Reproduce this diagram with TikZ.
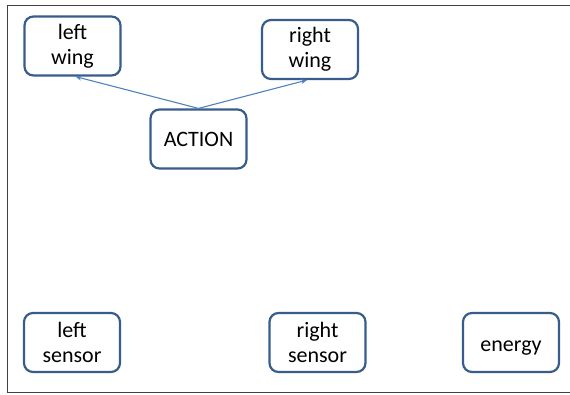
\documentclass[tikz,border=0pt]{standalone}
\usepackage{fontspec}
\setmainfont{Carlito}
\usetikzlibrary{arrows.meta}
\definecolor{boxline}{HTML}{385D8A}
\definecolor{arrowline}{HTML}{4F81BD}
\tikzset{
  unit/.style={draw=boxline, line width=2.2pt, rounded corners=9pt, fill=white,
    minimum width=96pt, minimum height=59pt, align=center, inner sep=1pt,
    font=\fontsize{22}{25}\selectfont},
  link/.style={draw=arrowline, line width=1.1pt, -{Stealth[length=6pt,width=5pt]}}
}
\begin{document}
\begin{tikzpicture}[x=1pt,y=1pt]
  \useasboundingbox (0,0) rectangle (570,395);
  % outer frame (open on the right)
  \draw[line width=1pt, black!75] (570,389) -- (7,389) -- (7,2) -- (570,2);
  % units
  \node[unit] (lw)  at (72.5,349)  {left\\wing};
  \node[unit] (rw)  at (310,345.5) {right\\wing};
  \node[unit] (act) at (198.5,256) {ACTION};
  \node[unit] (ls)  at (72,52.5)   {left\\sensor};
  \node[unit] (rs)  at (317.5,52.5) {right\\sensor};
  \node[unit, text height=19pt, text depth=0pt] (en) at (511,52.5) {energy};
  % action drives the wings
  \draw[link] (act.north) -- ([xshift=3pt]lw.south);
  \draw[link] (act.north) -- ([xshift=-3pt]rw.south);
\end{tikzpicture}
\end{document}
